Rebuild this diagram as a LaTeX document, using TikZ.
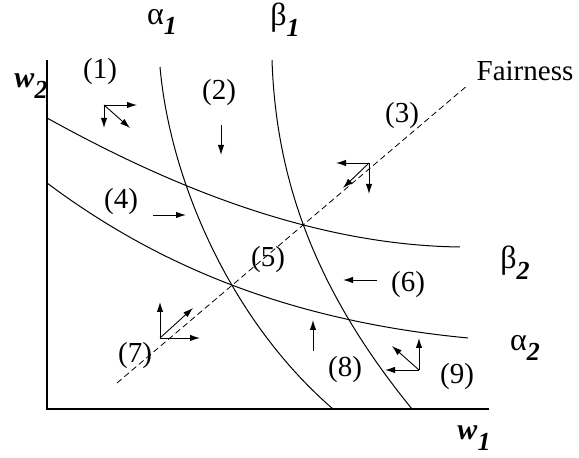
\documentclass[tikz,border=0pt]{standalone}
\usepackage{fontspec}
\setmainfont{Liberation Serif}
\usepackage{tikz}
\usetikzlibrary{arrows.meta}
\newcommand{\greeksub}[2]{{\fontsize{16}{18}\selectfont #1}\raisebox{-0.8ex}{\fontsize{13}{14}\selectfont\textit{\textbf{#2}}}}
\newcommand{\axlab}[2]{{\fontsize{15}{18}\selectfont\textbf{\textit{#1}}}\raisebox{-0.8ex}{\fontsize{13}{14}\selectfont\textit{\textbf{#2}}}}
\tikzset{
  curve/.style={line width=0.5pt},
  vec/.style={->, line width=0.45pt, >={Latex[length=5pt, width=3.2pt]}},
  fair/.style={line width=0.4pt, dash pattern=on 3pt off 1.8pt},
  region/.style={inner sep=0pt}
}
\begin{document}
\begin{tikzpicture}[x=0.5pt, y=-0.5pt, font=\fontsize{14.5}{17}\selectfont]
        \useasboundingbox (0,0) rectangle (579,458);
        % axes
        \draw [line width=0.6pt] (47,60) -- (47,409) -- (489,409);
        \node (WTwo) at (31,86) {\axlab{w}{2}};
        \node (WOne) at (474,438) {\axlab{w}{1}};
        % the four curves
        \draw [curve] (160,67) .. controls (170,180) and (230,320) .. (333,409);
        \draw [curve] (272,60) .. controls (276,180) and (315,290) .. (412,409);
        \draw [curve] (47,118) .. controls (150,175) and (300,245) .. (460,247);
        \draw [curve] (47,183) .. controls (150,260) and (280,320) .. (468,338);
        \node (AlphaOne) at (162,22) {\greeksub{α}{1}};
        \node (BetaOne) at (285,20) {\greeksub{β}{1}};
        \node (BetaTwo) at (515,263) {\greeksub{β}{2}};
        \node (AlphaTwo) at (525,348) {\greeksub{α}{2}};
        % fairness line
        \coordinate (FairLow) at (117,383);
        \coordinate (FairHigh) at (468,85);
        \draw [fair] (FairLow) -- (FairHigh);
        \node (Fair) at (525,71) {Fairness};
        % region labels
        \node (RegOne) [region] at (100,72) {(1)};
        \node (RegTwo) [region] at (219,93) {(2)};
        \node (RegThree) [region] at (402,116) {(3)};
        \node (RegFour) [region] at (121,202) {(4)};
        \node (RegFive) [region] at (268,260) {(5)};
        \node (RegSix) [region] at (408,285) {(6)};
        \node (RegSeven) [region] at (135,356) {(7)};
        \node (RegEight) [region] at (345,370) {(8)};
        \node (RegNine) [region] at (457,377) {(9)};
        % direction arrows
        \coordinate (VOne) at (104,105);
        \draw [vec] (VOne) -- ++(33,0);
        \draw [vec] (VOne) -- ++(0,23);
        \draw [vec] (VOne) -- ++(26,23);
        \coordinate (VTwo) at (221,125);
        \draw [vec] (VTwo) -- ++(0,30);
        \coordinate (VFour) at (153,215);
        \draw [vec] (VFour) -- ++(33,0);
        \coordinate (VThree) at (369,163);
        \draw [vec] (VThree) -- ++(-33,0);
        \draw [vec] (VThree) -- ++(0,31);
        \draw [vec] (VThree) -- ++(-26,25);
        \coordinate (VSix) at (377,280);
        \draw [vec] (VSix) -- ++(-34,0);
        \coordinate (VEight) at (313,351);
        \draw [vec] (VEight) -- ++(0,-31);
        \coordinate (VNine) at (419,370);
        \draw [vec] (VNine) -- ++(-34,0);
        \draw [vec] (VNine) -- ++(0,-32);
        \draw [vec] (VNine) -- ++(-27,-24);
        \coordinate (VSeven) at (160,338);
        \draw [vec] (VSeven) -- ++(0,-36);
        \draw [vec] (VSeven) -- ++(40,0);
        \draw [vec] (VSeven) -- ++(33,-30);
    \end{tikzpicture}
\end{document}
